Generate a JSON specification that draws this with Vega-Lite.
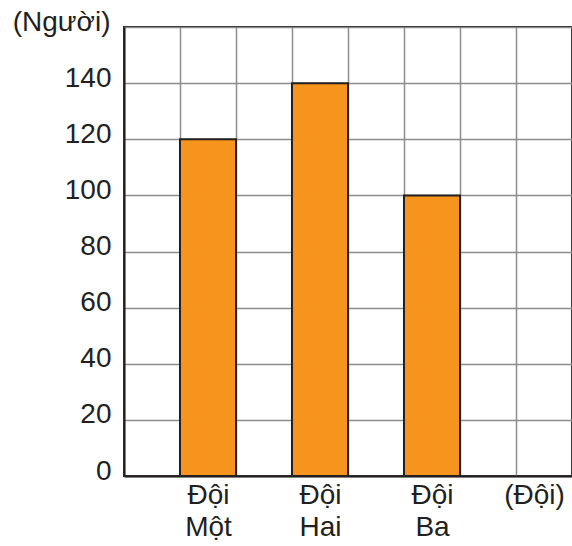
{
  "$schema": "https://vega.github.io/schema/vega-lite/v6.json",
  "autosize": {"type": "none"},
  "padding": {"left": 124, "top": 27, "right": 0, "bottom": 70},
  "width": 448,
  "height": 449,
  "background": "white",
  "config": {
    "view": {"stroke": "#231f20", "strokeWidth": 2},
    "font": "Liberation Sans"
  },
  "data": {
    "values": [
      {"team": "Đội Một", "people": 120},
      {"team": "Đội Hai", "people": 140},
      {"team": "Đội Ba", "people": 100}
    ]
  },
  "mark": {"type": "bar", "color": "#f7941d", "stroke": "#231f20", "strokeWidth": 2},
  "encoding": {
    "x": {
      "field": "team",
      "type": "nominal",
      "sort": null,
      "scale": {
        "type": "band",
        "domain": ["_1", "Đội Một", "_3", "Đội Hai", "_5", "Đội Ba", "_7", "(Đội)"],
        "paddingInner": 0,
        "paddingOuter": 0
      },
      "axis": {
        "title": null,
        "labelAngle": 0,
        "tickBand": "extent",
        "grid": true,
        "gridColor": "#8c8c8c",
        "gridWidth": 1.5,
        "ticks": false,
        "domainColor": "#231f20",
        "domainWidth": 2,
        "labelFont": "Liberation Sans",
        "labelFontSize": 28,
        "labelColor": "#231f20",
        "labelPadding": 5,
        "labelLineHeight": 32,
        "labelBaseline": "top",
        "labelOffset": {"condition": {"test": "datum.value === '(Đội)'", "value": -10}, "value": 0},
        "labelExpr": "indexof(datum.label, '_') === 0 ? '' : split(datum.label, ' ')"
      }
    },
    "y": {
      "field": "people",
      "type": "quantitative",
      "scale": {"domain": [0, 160], "nice": false},
      "axis": {
        "title": "(Người)",
        "titleAngle": 0,
        "titleX": -14,
        "titleY": 3,
        "titleAlign": "right",
        "titleBaseline": "alphabetic",
        "titleFont": "Liberation Sans",
        "titleFontSize": 28,
        "titleFontWeight": "normal",
        "titleColor": "#231f20",
        "values": [0, 20, 40, 60, 80, 100, 120, 140, 160],
        "labelExpr": "datum.value === 160 ? '' : datum.label",
        "grid": true,
        "gridColor": "#8c8c8c",
        "gridWidth": 1.5,
        "ticks": false,
        "domainColor": "#231f20",
        "domainWidth": 2,
        "labelFont": "Liberation Sans",
        "labelFontSize": 28,
        "labelColor": "#231f20",
        "labelPadding": 13,
        "labelBaseline": "alphabetic",
        "labelOffset": 3
      }
    }
  }
}
